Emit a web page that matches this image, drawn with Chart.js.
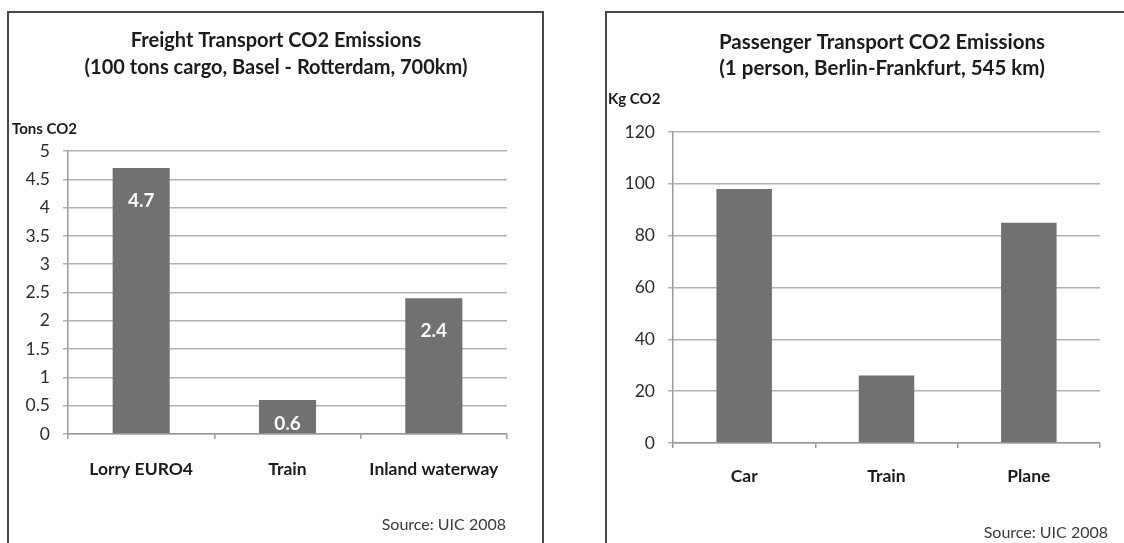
<!DOCTYPE html>
<html>
<head>
<meta charset="utf-8">
<script src="https://cdn.jsdelivr.net/npm/chart.js@4.4.1/dist/chart.umd.min.js"></script>
<style>
  html, body { margin:0; padding:0; background:#ffffff; }
  body { width:1124px; height:543px; overflow:hidden; position:relative; }
  .panel { position:absolute; }
  .panel canvas { display:block; }
  .frame { position:absolute; border:2px solid #474747; border-bottom:none; box-sizing:border-box; pointer-events:none; }
</style>
</head>
<body>
<div class="panel" style="left:8px;top:12px;width:535px;height:531px;"><canvas id="freight" width="535" height="531"></canvas></div>
<div class="frame" style="left:7px;top:11px;width:537px;height:540px;"></div>
<div class="panel" style="left:606px;top:12px;width:518px;height:531px;"><canvas id="passenger" width="518" height="531"></canvas></div>
<div class="frame" style="left:605px;top:11px;width:600px;height:540px;"></div>

<script>
// ---------- data ----------
const freightCategories = ['Lorry EURO4', 'Train', 'Inland waterway'];
const freightValues = [4.7, 0.6, 2.4];
const freightYTicks = [0, 0.5, 1, 1.5, 2, 2.5, 3, 3.5, 4, 4.5, 5];
const freightYTickLabels = ['0', '0.5', '1', '1.5', '2', '2.5', '3', '3.5', '4', '4.5', '5'];
const freightTitle = ['Freight Transport CO2 Emissions', '(100 tons cargo, Basel - Rotterdam, 700km)'];
const freightUnit = 'Tons CO2';

const passengerCategories = ['Car', 'Train', 'Plane'];
const passengerValues = [98, 26, 85];
const passengerYTicks = [0, 20, 40, 60, 80, 100, 120];
const passengerYTickLabels = ['0', '20', '40', '60', '80', '100', '120'];
const passengerTitle = ['Passenger Transport CO2 Emissions', '(1 person, Berlin-Frankfurt, 545 km)'];
const passengerUnit = 'Kg CO2';

const sourceText = 'Source: UIC 2008';

// ---------- style ----------
const FONT = 'Lato, "Open Sans", sans-serif';
const BAR_COLOR = '#717171';
const GRID_COLOR = '#b2b2b2';
const AXIS_COLOR = '#9a9a9a';

const panelText = {
  id: 'panelText',
  afterDraw(chart, args, o) {
    const ctx = chart.ctx;
    ctx.save();
    ctx.textBaseline = 'middle';
    ctx.fillStyle = '#1c1c1c';
    ctx.font = 'bold ' + o.titleSize + 'px ' + FONT;
    ctx.textAlign = 'center';
    o.title.forEach((t, i) => ctx.fillText(t, o.titleX, o.titleY + i * o.titleGap));
    ctx.font = 'bold ' + o.unitSize + 'px ' + FONT;
    ctx.textAlign = 'left';
    ctx.fillText(o.unit, o.unitX, o.unitY);
    ctx.font = o.sourceSize + 'px ' + FONT;
    ctx.fillStyle = '#3a3a3a';
    ctx.textAlign = 'right';
    ctx.fillText(o.source, o.sourceX, o.sourceY);
    if (o.showValues) {
      const meta = chart.getDatasetMeta(0);
      const data = chart.data.datasets[0].data;
      ctx.font = 'bold ' + o.valueSize + 'px ' + FONT;
      ctx.fillStyle = '#ffffff';
      ctx.textAlign = 'center';
      meta.data.forEach((el, i) => {
        const y = Math.min(el.y + 33, el.base - 9);
        ctx.fillText(String(data[i]), el.x, y);
      });
    }
    ctx.restore();
  }
};

function makeChart(id, cats, vals, yTicks, yLabels, geom, text) {
  return new Chart(document.getElementById(id), {
    type: 'bar',
    data: {
      labels: cats,
      datasets: [{ data: vals, backgroundColor: BAR_COLOR, borderWidth: 0, barPercentage: 0.39, categoryPercentage: 1 }]
    },
    options: {
      responsive: false,
      animation: false,
      events: [],
      layout: { padding: { top: geom.top, left: 0, right: geom.right, bottom: 0 } },
      plugins: { legend: { display: false }, tooltip: { enabled: false }, title: { display: false }, panelText: text },
      scales: {
        x: {
          grid: { display: true, drawOnChartArea: false, drawTicks: true, tickLength: 5, color: AXIS_COLOR, lineWidth: 1.5, offset: true },
          border: { display: true, color: AXIS_COLOR, width: 1.5 },
          ticks: { font: { family: FONT, size: 17.5, weight: 'bold' }, color: '#1c1c1c', padding: geom.xPad, maxRotation: 0, autoSkip: false },
          afterFit(s) { s.height = geom.xH; }
        },
        y: {
          min: yTicks[0],
          max: yTicks[yTicks.length - 1],
          afterBuildTicks(s) { s.ticks = yTicks.map(v => ({ value: v })); },
          grid: { color: GRID_COLOR, lineWidth: 1.5, tickLength: 5, drawTicks: true },
          border: { display: true, color: AXIS_COLOR, width: 1.5 },
          ticks: { font: { family: FONT, size: 17.5 }, color: '#2e2e2e', padding: 13, callback: (v, i) => yLabels[i] },
          afterFit(s) { s.width = geom.yW; }
        }
      }
    },
    plugins: [panelText]
  });
}

makeChart('freight', freightCategories, freightValues, freightYTicks, freightYTickLabels,
  { top: 139, right: 36, yW: 60, xH: 109, xPad: 20 },
  { title: freightTitle, titleSize: 20, titleX: 268, titleY: 29, titleGap: 27,
    unit: freightUnit, unitSize: 15, unitX: 4, unitY: 117,
    source: sourceText, sourceSize: 16, sourceX: 498, sourceY: 513,
    showValues: true, valueSize: 19 });

makeChart('passenger', passengerCategories, passengerValues, passengerYTicks, passengerYTickLabels,
  { top: 120, right: 24, yW: 67, xH: 100, xPad: 18 },
  { title: passengerTitle, titleSize: 20.5, titleX: 276, titleY: 30, titleGap: 26,
    unit: passengerUnit, unitSize: 15, unitX: 2, unitY: 87,
    source: sourceText, sourceSize: 16, sourceX: 502, sourceY: 521,
    showValues: false, valueSize: 19 });
</script>
</body>
</html>
